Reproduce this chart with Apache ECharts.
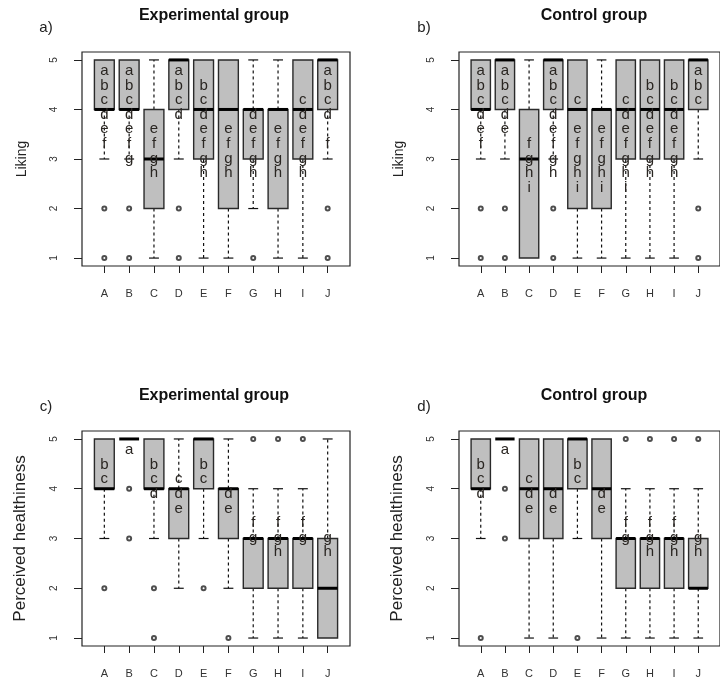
<!DOCTYPE html>
<html>
<head>
<meta charset="utf-8">
<script src="https://cdn.jsdelivr.net/npm/echarts@6/dist/echarts.min.js"></script>
<style>
  html, body { margin: 0; padding: 0; background: #fff; }
  #main { width: 720px; height: 684px; }
</style>
</head>
<body>
<div id="main"></div>
<script>
// categories on the x axis
var categories = ["A", "B", "C", "D", "E", "F", "G", "H", "I", "J"];
var yTicks = [1, 2, 3, 4, 5];

// boxes: [lower whisker, Q1, median, Q3, upper whisker]
var likingExpBoxes = [[3, 4, 4, 5, 5], [3, 4, 4, 5, 5], [1, 2, 3, 4, 5], [3, 4, 5, 5, 5], [1, 3, 4, 5, 5],
  [1, 2, 4, 5, 5], [2, 3, 4, 4, 5], [1, 2, 4, 4, 5], [1, 3, 4, 5, 5], [3, 4, 5, 5, 5]];
var likingExpOutliers = [["A", 2], ["A", 1], ["B", 2], ["B", 1], ["D", 2], ["D", 1], ["G", 1], ["J", 2], ["J", 1]];
var likingExpLetters = ["abcdef", "abcdefg", "efgh", "abcd", "bcdefgh", "efgh", "defgh", "efgh", "cdefgh", "abcdf"];

var likingCtlBoxes = [[3, 4, 4, 5, 5], [3, 4, 5, 5, 5], [1, 1, 3, 4, 5], [3, 4, 5, 5, 5], [1, 2, 4, 5, 5],
  [1, 2, 4, 4, 5], [1, 3, 4, 5, 5], [1, 3, 4, 5, 5], [1, 3, 4, 5, 5], [3, 4, 5, 5, 5]];
var likingCtlOutliers = [["A", 2], ["A", 1], ["B", 2], ["B", 1], ["D", 2], ["D", 1], ["J", 2], ["J", 1]];
var likingCtlLetters = ["abcdef", "abcde", "fghi", "abcdefgh", "cefghi", "efghi", "cdefghi", "bcdefgh", "bcdefgh", "abc"];

var healthExpBoxes = [[3, 4, 4, 5, 5], [5, 5, 5, 5, 5], [3, 4, 4, 5, 5], [2, 3, 4, 4, 5], [3, 4, 5, 5, 5],
  [2, 3, 4, 4, 5], [1, 2, 3, 3, 4], [1, 2, 3, 3, 4], [1, 2, 3, 3, 4], [1, 1, 2, 3, 5]];
var healthExpOutliers = [["A", 2], ["B", 4], ["B", 3], ["C", 2], ["C", 1], ["E", 2], ["F", 1], ["G", 5], ["H", 5], ["I", 5]];
var healthExpLetters = ["bc", "a", "bcd", "cde", "bc", "de", "fg", "fgh", "fg", "gh"];

var healthCtlBoxes = [[3, 4, 4, 5, 5], [5, 5, 5, 5, 5], [1, 3, 4, 5, 5], [1, 3, 4, 5, 5], [3, 4, 5, 5, 5],
  [1, 3, 4, 5, 5], [1, 2, 3, 3, 4], [1, 2, 3, 3, 4], [1, 2, 3, 3, 4], [1, 2, 2, 3, 4]];
var healthCtlOutliers = [["A", 1], ["B", 4], ["B", 3], ["E", 1], ["G", 5], ["H", 5], ["I", 5], ["J", 5]];
var healthCtlLetters = ["bcd", "a", "cde", "de", "bc", "de", "fg", "fgh", "fgh", "gh"];

var FONT = '"Liberation Sans", Arial, sans-serif';

var panels = [
  { boxes: likingExpBoxes, outliers: likingExpOutliers, letters: likingExpLetters,
    title: "Experimental group", tag: "a)", yName: "Liking", nameSize: 14,
    left: 82, top: 52, height: 214, titleX: 214, titleY: 16, tagX: 46, tagY: 28 },
  { boxes: likingCtlBoxes, outliers: likingCtlOutliers, letters: likingCtlLetters,
    title: "Control group", tag: "b)", yName: "Liking", nameSize: 14,
    left: 459, top: 52, height: 214, titleX: 594, titleY: 16, tagX: 424, tagY: 28 },
  { boxes: healthExpBoxes, outliers: healthExpOutliers, letters: healthExpLetters,
    title: "Experimental group", tag: "c)", yName: "Perceived healthiness", nameSize: 17,
    left: 82, top: 431, height: 215, titleX: 214, titleY: 396, tagX: 46, tagY: 407 },
  { boxes: healthCtlBoxes, outliers: healthCtlOutliers, letters: healthCtlLetters,
    title: "Control group", tag: "d)", yName: "Perceived healthiness", nameSize: 17,
    left: 459, top: 431, height: 215, titleX: 594, titleY: 396, tagX: 424, tagY: 407 }
];

function renderBox(params, api) {
  var x = api.value(0);
  var lo = api.value(1), q1 = api.value(2), med = api.value(3), q3 = api.value(4), hi = api.value(5);
  var half = api.size([0.8, 0])[0] / 2;
  var cap = half / 2;
  var pLo = api.coord([x, lo]), pQ1 = api.coord([x, q1]), pMed = api.coord([x, med]);
  var pQ3 = api.coord([x, q3]), pHi = api.coord([x, hi]);
  var cx = pLo[0];
  var dash = { stroke: "#111", lineWidth: 1.2, lineDash: [3, 3] };
  var solid = { stroke: "#111", lineWidth: 1.2 };
  var ch = [];
  if (lo < q1) {
    ch.push({ type: "line", shape: { x1: cx, y1: pQ1[1], x2: cx, y2: pLo[1] }, style: dash });
    ch.push({ type: "line", shape: { x1: cx - cap, y1: pLo[1], x2: cx + cap, y2: pLo[1] }, style: solid });
  }
  if (hi > q3) {
    ch.push({ type: "line", shape: { x1: cx, y1: pQ3[1], x2: cx, y2: pHi[1] }, style: dash });
    ch.push({ type: "line", shape: { x1: cx - cap, y1: pHi[1], x2: cx + cap, y2: pHi[1] }, style: solid });
  }
  if (q3 > q1) {
    ch.push({ type: "rect", shape: { x: cx - half, y: pQ3[1], width: half * 2, height: pQ1[1] - pQ3[1] },
      style: { fill: "#bfbfbf", stroke: "#2a2a2a", lineWidth: 1.4 } });
  }
  ch.push({ type: "line", shape: { x1: cx - half, y1: pMed[1], x2: cx + half, y2: pMed[1] },
    style: { stroke: "#000", lineWidth: 3 } });
  return { type: "group", children: ch };
}

function letterRenderer(letters) {
  return function (params, api) {
    var x = api.value(0);
    var top = api.coord([x, 5]);
    var s = letters[params.dataIndex];
    var ch = [];
    for (var j = 0; j < s.length; j++) {
      var k = s.charCodeAt(j) - 97;
      ch.push({ type: "text", style: { text: s[j], x: top[0], y: top[1] + 11 + 14.6 * k,
        align: "center", verticalAlign: "middle", font: "15px " + FONT, fill: "#2a2622" } });
    }
    return { type: "group", children: ch };
  };
}

var grids = [], xAxes = [], yAxes = [], series = [], graphics = [];
panels.forEach(function (p, i) {
  grids.push({ left: p.left, top: p.top, width: 268, height: p.height, show: true,
    borderColor: "#222", borderWidth: 1.2, backgroundColor: "transparent" });
  xAxes.push({ type: "value", gridIndex: i, min: 0.1, max: 10.9,
    axisLine: { show: false }, splitLine: { show: false },
    axisTick: { show: true, length: 7, customValues: [1, 2, 3, 4, 5, 6, 7, 8, 9, 10], lineStyle: { color: "#222" } },
    axisLabel: { customValues: [1, 2, 3, 4, 5, 6, 7, 8, 9, 10], margin: 22, fontSize: 11,
      fontFamily: FONT, color: "#333", formatter: function (v) { return categories[v - 1]; } } });
  yAxes.push({ type: "value", gridIndex: i, min: 0.84, max: 5.16,
    name: p.yName, nameLocation: "middle", nameRotate: 90, nameGap: 53,
    nameTextStyle: { fontSize: p.nameSize, fontFamily: FONT, color: "#222" },
    axisLine: { show: false }, splitLine: { show: false },
    axisTick: { show: true, length: 8, customValues: yTicks, lineStyle: { color: "#222" } },
    axisLabel: { customValues: yTicks, rotate: 90, margin: 23, fontSize: 10, fontFamily: FONT, color: "#333" } });
  series.push({ type: "custom", xAxisIndex: i, yAxisIndex: i, renderItem: renderBox,
    encode: { x: 0, y: [1, 2, 3, 4, 5] },
    data: p.boxes.map(function (b, k) { return [k + 1].concat(b); }) });
  series.push({ type: "scatter", xAxisIndex: i, yAxisIndex: i, symbol: "emptyCircle", symbolSize: 4,
    itemStyle: { color: "#222", borderWidth: 1 },
    data: p.outliers.map(function (o) { return [categories.indexOf(o[0]) + 1, o[1]]; }) });
  series.push({ type: "custom", xAxisIndex: i, yAxisIndex: i, renderItem: letterRenderer(p.letters),
    z: 5, encode: { x: 0, y: 1 },
    data: categories.map(function (c, k) { return [k + 1, 5]; }) });
  graphics.push({ type: "text", x: p.titleX, y: p.titleY,
    style: { text: p.title, align: "center", verticalAlign: "middle", font: "bold 16px " + FONT, fill: "#111" } });
  graphics.push({ type: "text", x: p.tagX, y: p.tagY,
    style: { text: p.tag, align: "center", verticalAlign: "middle", font: "15px " + FONT, fill: "#222" } });
});

var chart = echarts.init(document.getElementById("main"), null, { renderer: "canvas" });
chart.setOption({
  animation: false,
  backgroundColor: "#fff",
  grid: grids,
  xAxis: xAxes,
  yAxis: yAxes,
  series: series,
  graphic: graphics
});
</script>
</body>
</html>
